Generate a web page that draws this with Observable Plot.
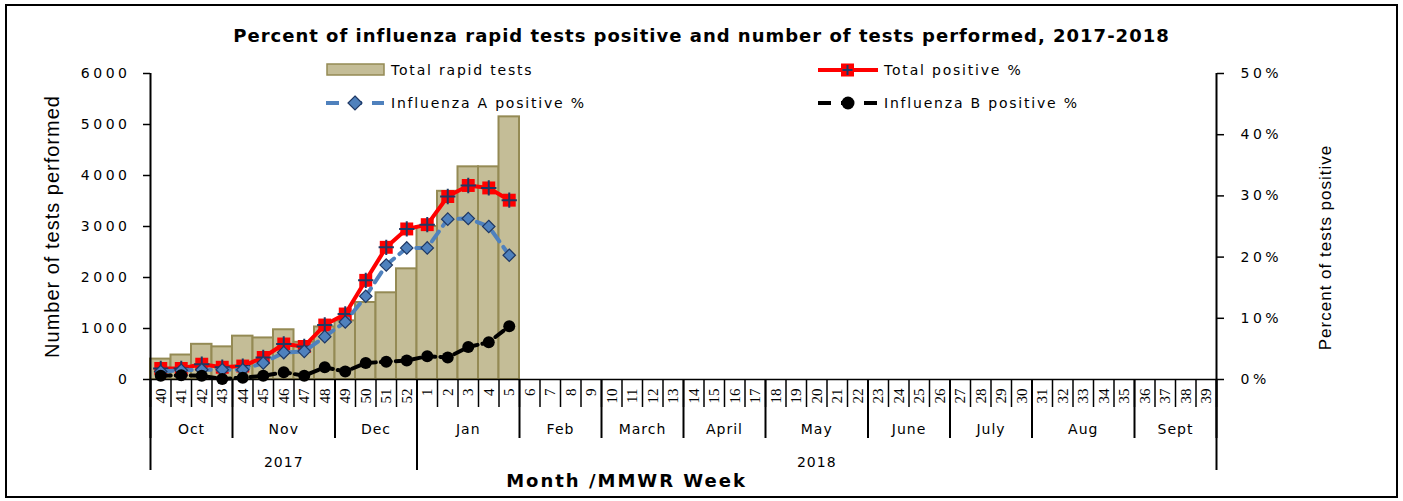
<!DOCTYPE html>
<html><head><meta charset="utf-8">
<script src="https://cdn.jsdelivr.net/npm/d3@7"></script>
<script src="https://cdn.jsdelivr.net/npm/@observablehq/plot@0.6"></script>
<style>
body{margin:0;background:#fff;}
#wrap{position:relative;width:1403px;height:501px;overflow:hidden;font-family:"DejaVu Sans",sans-serif;}
#title{height:55px;display:flex;justify-content:center;align-items:flex-end;box-sizing:border-box;padding-bottom:9px;font:bold 18px "DejaVu Sans";letter-spacing:1px;color:#000;}
#border{position:absolute;left:5px;top:4px;width:1389px;height:490px;border:2px solid #000;pointer-events:none;}
#legend{position:absolute;left:0;top:0;}
#chart svg g[aria-label="y-axis tick label"] text{letter-spacing:3.5px;}
#chart svg g.months text, #chart svg g.years text{letter-spacing:1px;}
#chart svg g.xtitle text{letter-spacing:2px;}
#chart svg g.ytitle text{letter-spacing:1px;}
#legend text{letter-spacing:1.8px;}
</style>
</head><body>
<div id="wrap">
  <div id="title">Percent of influenza rapid tests positive and number of tests performed, 2017-2018</div>
  <div id="chart"></div>
  <div id="legend"></div>
  <div id="border"></div>
</div>
<script>
// ---- data ----
const weekLabels = ["40","41","42","43","44","45","46","47","48","49","50","51","52",
  "1","2","3","4","5","6","7","8","9","10","11","12","13","14","15","16","17","18","19","20",
  "21","22","23","24","25","26","27","28","29","30","31","32","33","34","35","36","37","38","39"];
const months = ["Oct","Nov","Dec","Jan","Feb","March","April","May","June","July","Aug","Sept"];
const monthWeeks = [4,5,4,5,4,4,4,5,4,4,5,4];
const years = ["2017","2018"];
const yearWeeks = [13,39];
const totalTests = [400,480,690,640,850,815,975,730,1030,1150,1510,1700,2170,3000,3690,4170,4170,5150];
const totalPositive = [1.8,1.8,2.5,2.0,2.2,3.6,5.8,5.4,8.9,10.7,16.2,21.6,24.6,25.3,29.9,31.7,31.3,29.3];
const fluA = [1.3,1.5,1.6,1.6,1.6,2.7,4.4,4.6,7.0,9.4,13.6,18.7,21.5,21.5,26.2,26.3,25.0,20.3];
const fluB = [0.6,0.7,0.6,0.1,0.3,0.6,1.2,0.6,2.0,1.3,2.7,2.9,3.1,3.8,3.6,5.3,6.1,8.7];
const leftTicks = [0,1000,2000,3000,4000,5000,6000];
const rightTicks = [0,10,20,30,40,50];
const pctMax = 50, countMax = 6000;

// ---- derived tables ----
const nWeeks = weekLabels.length;
const k = countMax / pctMax;
const weekData = weekLabels.map((label, i) => ({label, i}));
const barData = totalTests.map((v, i) => ({i, v}));
const pos = totalPositive.map((p, i) => ({i, p}));
const aData = fluA.map((p, i) => ({i, p}));
const bData = fluB.map((p, i) => ({i, p}));
const monthEnds = d3.cumsum(monthWeeks);
const monthData = months.map((name, j) => ({name, mid: monthEnds[j] - monthWeeks[j] / 2}));
const monthBounds = [0, ...monthEnds];
const yearEnds = d3.cumsum(yearWeeks);
const yearData = years.map((name, j) => ({name, mid: yearEnds[j] - yearWeeks[j] / 2}));
const yearBounds = [0, ...yearEnds];
const weekBounds = d3.range(0, nWeeks + 1);

const RED = "#FF0000", BLUE = "#4F81BD", NAVY = "#1F3864", TAN = "#C4BD97", TANB = "#948A54";

const plot = Plot.plot({
  width: 1403, height: 446,
  marginLeft: 150, marginRight: 187, marginTop: 18, marginBottom: 122,
  x: {domain: [0, nWeeks], axis: null},
  y: {domain: [0, countMax], axis: null},
  style: {fontFamily: "DejaVu Sans", fontSize: "14px", color: "#000", background: "#fff", overflow: "visible"},
  marks: [
    Plot.rectY(barData, {x1: "i", x2: d => d.i + 1, y: "v", fill: TAN, stroke: TANB, strokeWidth: 2}),
    Plot.ruleY([0], {strokeWidth: 1.5}),
    Plot.ruleX([0, nWeeks], {strokeWidth: 2}),
    Plot.axisY({anchor: "left", label: null, ticks: leftTicks, tickSize: 7, tickPadding: 13, tickFormat: d => String(d), fontSize: 14, strokeWidth: 1.5}),
    Plot.axisY({anchor: "right", label: null, ticks: rightTicks.map(p => p * k), tickSize: 7, tickPadding: 17, tickFormat: d => (d / k) + "%", fontSize: 14, strokeWidth: 1.5}),
    Plot.axisX({label: null, ticks: weekBounds, tickSize: 28, tickFormat: () => "", strokeWidth: 1.5}),
    Plot.axisX({label: null, ticks: monthBounds, tickSize: 59, tickFormat: () => "", strokeWidth: 2}),
    Plot.axisX({label: null, ticks: yearBounds, tickSize: 91, tickFormat: () => "", strokeWidth: 2}),
    Plot.text(weekData, {x: d => d.i + 0.5, text: "label", frameAnchor: "bottom", dy: 9, rotate: -90, textAnchor: "end", lineAnchor: "middle", fontFamily: "Liberation Serif", fontSize: 15}),
    Plot.text(monthData, {x: "mid", text: "name", frameAnchor: "bottom", dy: 54, fontSize: 14, className: "months"}),
    Plot.text(yearData, {x: "mid", text: "name", frameAnchor: "bottom", dy: 87, fontSize: 14, className: "years"}),
    Plot.text(["Month /MMWR Week"], {text: d => d, frameAnchor: "bottom-left", textAnchor: "middle", dx: 476, dy: 107, fontWeight: "bold", fontSize: 18, className: "xtitle"}),
    Plot.text(["Number of tests performed"], {text: d => d, frameAnchor: "left", textAnchor: "middle", dx: -98, rotate: -90, fontSize: 20, fontFamily: "Liberation Sans", className: "ytitle"}),
    Plot.text(["Percent of tests positive"], {text: d => d, frameAnchor: "right", textAnchor: "middle", dx: 109, dy: 21, rotate: -90, fontSize: 17, fontFamily: "Liberation Sans", className: "ytitle"}),
    // Total positive %
    Plot.line(pos, {x: d => d.i + 0.5, y: d => d.p * k, stroke: RED, strokeWidth: 4}),
    Plot.dot(pos, {x: d => d.i + 0.5, y: d => d.p * k, symbol: "square", r: 7.3, fill: RED, stroke: "none"}),
    Plot.dot(pos, {x: d => d.i + 0.5, y: d => d.p * k, symbol: "plus", r: 5, stroke: NAVY, strokeWidth: 2}),
    // Influenza A
    Plot.line(aData, {x: d => d.i + 0.5, y: d => d.p * k, stroke: BLUE, strokeWidth: 4, strokeDasharray: "12,7"}),
    Plot.dot(aData, {x: d => d.i + 0.5, y: d => d.p * k, symbol: "diamond2", r: 5.6, fill: BLUE, stroke: NAVY, strokeWidth: 1.2}),
    // Influenza B
    Plot.line(bData, {x: d => d.i + 0.5, y: d => d.p * k, stroke: "#000", strokeWidth: 4, strokeDasharray: "10,5"}),
    Plot.dot(bData, {x: d => d.i + 0.5, y: d => d.p * k, r: 6, fill: "#000", stroke: "none"})
  ]
});
document.getElementById("chart").appendChild(plot);

// ---- legend ----
const lg = d3.select("#legend").append("svg").attr("width", 1403).attr("height", 120)
  .style("font-family", "DejaVu Sans").style("font-size", "14px");
function label(x, y, t) {
  lg.append("text").attr("x", x).attr("y", y).attr("dy", "0.35em").text(t);
}
lg.append("rect").attr("x", 327).attr("y", 64).attr("width", 57).attr("height", 11)
  .attr("fill", TAN).attr("stroke", TANB).attr("stroke-width", 1.5);
label(391, 70, "Total rapid tests");
lg.append("line").attr("x1", 818).attr("x2", 878).attr("y1", 70).attr("y2", 70).attr("stroke", RED).attr("stroke-width", 4);
lg.append("rect").attr("x", 841).attr("y", 63.5).attr("width", 13).attr("height", 13).attr("fill", RED);
lg.append("path").attr("d", "M842.5,70H852.5M847.5,65V75").attr("stroke", NAVY).attr("stroke-width", 2);
label(884, 70, "Total positive %");
lg.append("line").attr("x1", 326).attr("x2", 384).attr("y1", 103).attr("y2", 103).attr("stroke", BLUE).attr("stroke-width", 4).attr("stroke-dasharray", "13,10");
lg.append("path").attr("d", "M355,96L362,103L355,110L348,103Z").attr("fill", BLUE).attr("stroke", NAVY).attr("stroke-width", 1.2);
label(391, 103, "Influenza A positive %");
lg.append("line").attr("x1", 818).attr("x2", 878).attr("y1", 103).attr("y2", 103).attr("stroke", "#000").attr("stroke-width", 4).attr("stroke-dasharray", "13,10");
lg.append("circle").attr("cx", 848).attr("cy", 103).attr("r", 6.5).attr("fill", "#000");
label(884, 103, "Influenza B positive %");
</script>
</body></html>
